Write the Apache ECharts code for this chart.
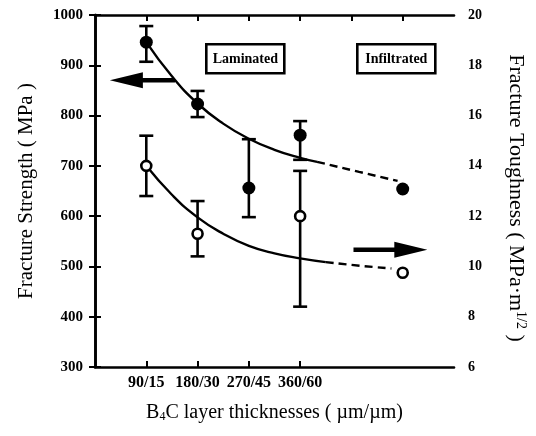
<!DOCTYPE html>
<html>
<head>
<meta charset="utf-8">
<script src="https://cdn.jsdelivr.net/npm/echarts@6/dist/echarts.min.js"></script>
<style>
  html, body { margin: 0; padding: 0; background: #fff; }
  #chart { width: 536px; height: 436px; }
</style>
</head>
<body>
<div id="chart"></div>
<script>
// B4C layer thickness groups (x = 1..4), infiltrated sample sits at x = 6
const categories = ['90/15', '180/30', '270/45', '360/60'];
const categoryPos = [1, 2, 3, 4];
const infiltratedPos = 6;

// Fracture strength (MPa), left axis
const strengthMean = [946, 823, 656, 761];
const strengthLow = [907, 797, 598, 712];
const strengthHigh = [978, 849, 753, 789];
const strengthInfiltrated = 654;

// Fracture toughness (MPa·m^1/2), right axis
const toughnessMean = [14.0, 11.3, null, 12.0];
const toughnessLow = [12.8, 10.4, null, 8.4];
const toughnessHigh = [15.2, 12.6, null, 13.8];
const toughnessInfiltrated = 9.75;

// Trend curves through the laminated data, with dashed extension to infiltrated
const strengthFitX = [1, 1.5, 2, 2.5, 3, 3.5, 4, 4.33];
const strengthFit = [946, 878, 824, 784, 754, 732, 716, 708];
const strengthExtX = [4.33, 5.15, 5.9];
const strengthExt = [708, 688, 670];
const toughnessFitX = [1, 1.5, 2, 2.5, 3, 3.5, 4, 4.5];
const toughnessFit = [14.0, 12.85, 11.95, 11.3, 10.82, 10.52, 10.32, 10.17];
const toughnessExtX = [4.5, 5.2, 5.78];
const toughnessExt = [10.17, 10.02, 9.92];

// Axis tick values
const strengthTicks = [300, 400, 500, 600, 700, 800, 900, 1000];
const toughnessTicks = [6, 8, 10, 12, 14, 16, 18, 20];
const topTickPos = [1, 2, 3, 4, 5, 6];

// Arrows pointing to each series' axis: [xFrom, yFrom, xTo, yTo]
const strengthArrow = [1.56, 870, 0.29, 870];
const toughnessArrow = [5.04, 10.66, 6.48, 10.66];

const SERIF = '"Liberation Serif", "DejaVu Serif", serif';
const INK = '#000';

function zip(xs, ys) { return xs.map((x, i) => [x, ys[i]]); }

function errorBars(low, high) {
  const out = [];
  categoryPos.forEach((x, i) => {
    if (low[i] != null && high[i] != null) out.push([x, low[i], high[i]]);
  });
  return out;
}

function renderErrorBar(params, api) {
  const x = api.value(0);
  const top = api.coord([x, api.value(2)]);
  const bot = api.coord([x, api.value(1)]);
  const half = 7;
  const st = { stroke: INK, lineWidth: 2.6 };
  return {
    type: 'group',
    children: [
      { type: 'line', shape: { x1: top[0], y1: top[1], x2: bot[0], y2: bot[1] }, style: st },
      { type: 'line', shape: { x1: top[0] - half, y1: top[1], x2: top[0] + half, y2: top[1] }, style: st },
      { type: 'line', shape: { x1: bot[0] - half, y1: bot[1], x2: bot[0] + half, y2: bot[1] }, style: st }
    ]
  };
}

function renderArrow(params, api) {
  const a = api.coord([api.value(0), api.value(1)]);
  const b = api.coord([api.value(2), api.value(3)]);
  const dx = b[0] - a[0], dy = b[1] - a[1];
  const len = Math.hypot(dx, dy);
  const ux = dx / len, uy = dy / len;
  const headLen = 33, headHalf = 8;
  const bx = b[0] - ux * headLen, by = b[1] - uy * headLen;
  return {
    type: 'group',
    children: [
      { type: 'line', shape: { x1: a[0], y1: a[1], x2: bx + ux * 4, y2: by + uy * 4 },
        style: { stroke: INK, lineWidth: 4.5 } },
      { type: 'polygon',
        shape: { points: [[b[0], b[1]], [bx - uy * headHalf, by + ux * headHalf], [bx + uy * headHalf, by - ux * headHalf]] },
        style: { fill: INK } }
    ]
  };
}

const axisLineStyle = { show: true, lineStyle: { color: INK, width: 2.6 } };
const tickStyle = { color: INK, width: 2 };
const trendBase = { type: 'line', smooth: true, showSymbol: false, symbol: 'none', z: 2, silent: true };

const option = {
  backgroundColor: '#fff',
  animation: false,
  grid: { left: 95, right: 76, top: 15, bottom: 69 },
  xAxis: [
    {
      type: 'value', position: 'bottom', min: 0, max: 7, interval: 1,
      axisLine: axisLineStyle,
      axisTick: { show: true, inside: true, length: 6, customValues: categoryPos, lineStyle: tickStyle },
      axisLabel: {
        customValues: categoryPos,
        formatter: v => categories[Math.round(v) - 1] || '',
        color: INK, fontFamily: SERIF, fontWeight: 'bold', fontSize: 16, margin: 8
      },
      splitLine: { show: false },
      name: 'B{sub|4}C layer thicknesses ( µm/µm)',
      nameLocation: 'middle', nameGap: 36,
      nameTextStyle: {
        color: INK, fontFamily: SERIF, fontSize: 20,
        rich: { sub: { fontFamily: SERIF, fontSize: 12, color: INK, padding: [8, 0, 0, 0] } }
      }
    },
    {
      type: 'value', position: 'top', min: 0, max: 7, interval: 1,
      axisLine: axisLineStyle,
      axisTick: { show: true, inside: true, length: 6, customValues: topTickPos, lineStyle: tickStyle },
      axisLabel: { show: false },
      splitLine: { show: false }
    }
  ],
  yAxis: [
    {
      type: 'value', position: 'left',
      min: strengthTicks[0], max: strengthTicks[strengthTicks.length - 1], interval: 100,
      axisLine: axisLineStyle,
      axisTick: { show: true, inside: true, length: 6, lineStyle: tickStyle },
      axisLabel: { color: INK, fontFamily: SERIF, fontWeight: 'bold', fontSize: 15, margin: 12, formatter: v => String(v) },
      splitLine: { show: false },
      name: 'Fracture Strength ( MPa )',
      nameLocation: 'middle', nameGap: 58,
      nameTextStyle: { color: INK, fontFamily: SERIF, fontSize: 21 }
    },
    {
      type: 'value', position: 'right',
      min: toughnessTicks[0], max: toughnessTicks[toughnessTicks.length - 1], interval: 2,
      axisLine: axisLineStyle,
      axisTick: { show: true, inside: true, length: 6, lineStyle: tickStyle },
      axisLabel: { color: INK, fontFamily: SERIF, fontWeight: 'bold', fontSize: 14, margin: 14, formatter: v => String(v) },
      splitLine: { show: false },
      name: 'Fracture Toughness ( MPa·m{sup|1/2} )',
      nameLocation: 'middle', nameGap: 50, nameRotate: -90,
      nameTextStyle: {
        color: INK, fontFamily: SERIF, fontSize: 22, padding: [0, 0, 0, 14],
        rich: { sup: { fontFamily: SERIF, fontSize: 14, color: INK, padding: [0, 0, 10, 0] } }
      }
    }
  ],
  series: [
    Object.assign({}, trendBase, {
      name: 'strength trend', xAxisIndex: 0, yAxisIndex: 0,
      data: zip(strengthFitX, strengthFit), lineStyle: { color: INK, width: 2.4 }
    }),
    Object.assign({}, trendBase, {
      name: 'strength extension', xAxisIndex: 0, yAxisIndex: 0,
      data: zip(strengthExtX, strengthExt), lineStyle: { color: INK, width: 2.4, type: [8, 5] }
    }),
    Object.assign({}, trendBase, {
      name: 'toughness trend', xAxisIndex: 0, yAxisIndex: 1,
      data: zip(toughnessFitX, toughnessFit), lineStyle: { color: INK, width: 2.4 }
    }),
    Object.assign({}, trendBase, {
      name: 'toughness extension', xAxisIndex: 0, yAxisIndex: 1,
      data: zip(toughnessExtX, toughnessExt), lineStyle: { color: INK, width: 2.4, type: [8, 5] }
    }),
    {
      name: 'strength error', type: 'custom', xAxisIndex: 0, yAxisIndex: 0,
      renderItem: renderErrorBar, data: errorBars(strengthLow, strengthHigh),
      encode: { x: 0, y: [1, 2] }, z: 3, silent: true
    },
    {
      name: 'toughness error', type: 'custom', xAxisIndex: 0, yAxisIndex: 1,
      renderItem: renderErrorBar, data: errorBars(toughnessLow, toughnessHigh),
      encode: { x: 0, y: [1, 2] }, z: 3, silent: true
    },
    {
      name: 'Fracture strength', type: 'scatter', xAxisIndex: 0, yAxisIndex: 0,
      data: zip(categoryPos, strengthMean).concat([[infiltratedPos, strengthInfiltrated]]),
      symbol: 'circle', symbolSize: 13,
      itemStyle: { color: INK, opacity: 1 }, z: 5, silent: true
    },
    {
      name: 'Fracture toughness', type: 'scatter', xAxisIndex: 0, yAxisIndex: 1,
      data: zip(categoryPos, toughnessMean).filter(d => d[1] != null)
        .concat([[infiltratedPos, toughnessInfiltrated]]),
      symbol: 'circle', symbolSize: 10,
      itemStyle: { color: '#fff', borderColor: INK, borderWidth: 2.6, opacity: 1 }, z: 5, silent: true
    },
    {
      name: 'strength arrow', type: 'custom', xAxisIndex: 0, yAxisIndex: 0,
      renderItem: renderArrow, data: [strengthArrow], encode: { x: [0, 2], y: [1, 3] }, z: 4, silent: true
    },
    {
      name: 'toughness arrow', type: 'custom', xAxisIndex: 0, yAxisIndex: 1,
      renderItem: renderArrow, data: [toughnessArrow], encode: { x: [0, 2], y: [1, 3] }, z: 4, silent: true
    }
  ],
  graphic: [
    {
      type: 'group', left: 205, top: 43,
      children: [
        { type: 'rect', shape: { x: 0, y: 0, width: 78, height: 29 },
          style: { fill: '#fff', stroke: INK, lineWidth: 2.6 } },
        { type: 'text', x: 39, y: 15,
          style: { text: 'Laminated', fill: INK, font: 'bold 14px ' + SERIF, align: 'center', verticalAlign: 'middle' } }
      ]
    },
    {
      type: 'group', left: 356, top: 43,
      children: [
        { type: 'rect', shape: { x: 0, y: 0, width: 78, height: 29 },
          style: { fill: '#fff', stroke: INK, lineWidth: 2.6 } },
        { type: 'text', x: 39, y: 15,
          style: { text: 'Infiltrated', fill: INK, font: 'bold 14px ' + SERIF, align: 'center', verticalAlign: 'middle' } }
      ]
    }
  ]
};

const chart = echarts.init(document.getElementById('chart'), null, { renderer: 'canvas' });
chart.setOption(option);
</script>
</body>
</html>
